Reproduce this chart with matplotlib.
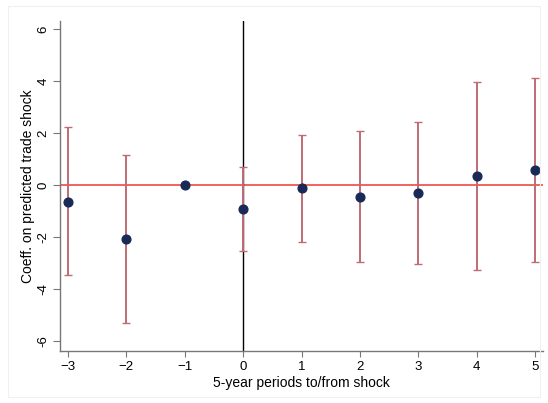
import numpy as np
import matplotlib
matplotlib.use("Agg")
import matplotlib.pyplot as plt
from matplotlib.patches import Rectangle

plt.rcParams['font.family'] = ['Liberation Sans', 'DejaVu Sans']

# event-study coefficients and 95% CI bounds
periods = [-3, -2, -1, 0, 1, 2, 3, 4, 5]
coef = [-0.65, -2.08, 0.0, -0.92, -0.12, -0.45, -0.31, 0.36, 0.58]
ci_hi = [2.23, 1.17, 0.0, 0.70, 1.93, 2.08, 2.43, 3.96, 4.10]
ci_lo = [-3.46, -5.30, 0.0, -2.54, -2.19, -2.96, -3.04, -3.26, -2.96]
yticks = [-6, -4, -2, 0, 2, 4, 6]

coef = np.array(coef)
err = np.vstack([coef - np.array(ci_lo), np.array(ci_hi) - coef])

fig = plt.figure(figsize=(5.48, 4.03), dpi=100)
fig.patches.append(Rectangle((8/548, 6/403), 1 - 16/548, 1 - 12/403, transform=fig.transFigure,
                             fill=False, ec='#f0f0f0', lw=0.8))
ax = fig.add_axes([60/548, 52/403, 483/548, 330/403])

ax.axhline(0, color='#ee3a34', lw=1.1, zorder=1)
ax.axvline(0, color='black', lw=1.0, zorder=1)

ax.errorbar(periods, coef, yerr=err, fmt='none', ecolor='#bd6b74', elinewidth=1.4,
            capsize=3, capthick=1.0, zorder=2)
ax.plot(periods, coef, 'o', color='#1a2a57', ms=6.3, zorder=3)

ax.set_xlim(-3.137, 5.137)
ax.set_ylim(-6.385, 6.31)
ax.set_xticks(periods)
ax.set_yticks(yticks)
ax.set_yticklabels([str(t) for t in yticks], rotation=90, va='center')

for s in ['top', 'right']:
    ax.spines[s].set_visible(False)
for s in ['left', 'bottom']:
    ax.spines[s].set_color('#777777')
    ax.spines[s].set_linewidth(1.0)
ax.tick_params(colors='#777777', labelcolor='black', labelsize=9.5)
ax.tick_params(axis='y', length=5, pad=2.5)
ax.tick_params(axis='x', length=4, pad=3)

ax.set_xlabel('5-year periods to/from shock', fontsize=10, labelpad=2)
ax.set_ylabel('Coeff. on predicted trade shock', fontsize=10, labelpad=1.5)

fig.savefig('out.png', dpi=100)
